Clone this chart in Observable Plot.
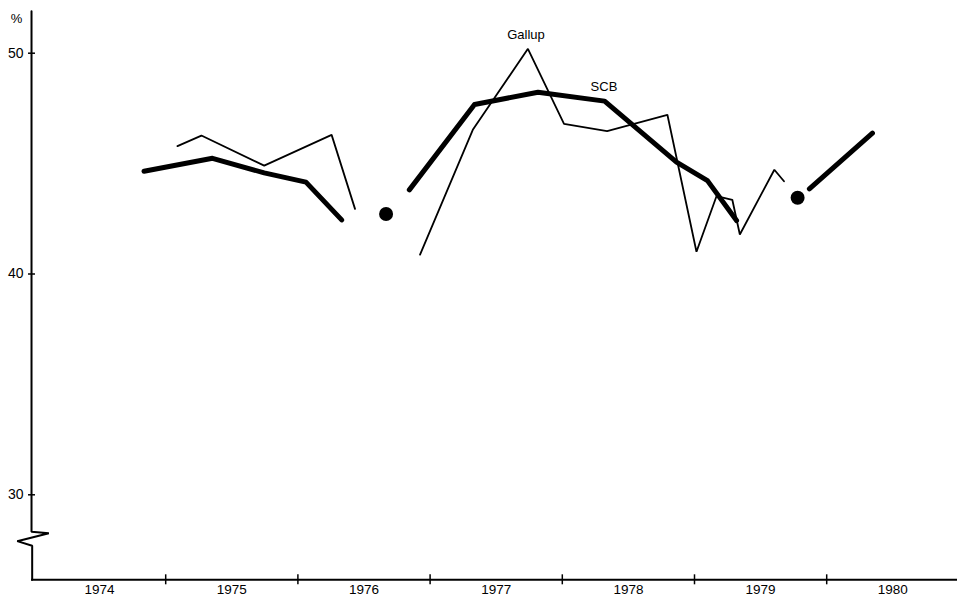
<!DOCTYPE html>
<html><head><meta charset="utf-8">
<script src="https://cdn.jsdelivr.net/npm/d3@7"></script>
<script src="https://cdn.jsdelivr.net/npm/@observablehq/plot@0.6"></script>
<style>body{margin:0;background:#fff} #chart svg{display:block}</style>
</head><body><div id="chart"></div>
<script>
// SCB series (thick line); null marks a break in the line
const scbYear = [1974.836, 1975.354, 1975.745, 1976.061, 1976.331, null, 1976.843, 1977.336, 1977.816, 1978.320, 1978.864, 1979.098, 1979.318, null, 1979.869, 1980.346];
const scbPct  = [44.65, 45.24, 44.58, 44.16, 42.45, null, 43.81, 47.68, 48.23, 47.83, 45.07, 44.23, 42.42, null, 43.86, 46.38];
// Gallup series (thin line)
const gallupYear = [1975.089, 1975.270, 1975.745, 1976.255, 1976.432, null, 1976.924, 1977.323, 1977.740, 1978.013, 1978.339, 1978.795, 1979.015, 1979.167, 1979.286, 1979.343, 1979.604, 1979.677];
const gallupPct  = [45.79, 46.27, 44.91, 46.30, 42.95, null, 40.88, 46.53, 50.20, 46.80, 46.47, 47.21, 41.01, 43.53, 43.36, 41.79, 44.72, 44.20];
// single SCB observations (dots)
const dotYear = [1976.667, 1979.780];
const dotPct  = [42.72, 43.45];
// series labels
const labelText = ["Gallup", "SCB"];
const labelYear = [1977.725, 1978.315];
const labelPct  = [50.64, 48.28];
// axes
const yearStart  = [1974, 1975, 1976, 1977, 1978, 1979, 1980];
const yearLabels = ["1974", "1975", "1976", "1977", "1978", "1979", "1980"];
const yearBounds = [1975, 1976, 1977, 1978, 1979, 1980];
const yTicks = [30, 40, 50];
const yFloor = 26.15, yTop = 51.9;
const axisYear = 1973.985;
// broken y-axis path (axis line with zigzag break)
const axisPathYear = [axisYear, axisYear, 1974.116, 1973.877, 1973.99, 1973.99];
const axisPathPct  = [yTop, 28.33, 28.26, 27.90, 27.69, yFloor];

const rows = (xs, ys) => xs.map((x, i) => ({x, y: ys[i]}));
const font = "'Liberation Sans', Arial, Helvetica, sans-serif";

const chart = Plot.plot({
  width: 957,
  height: 597,
  marginLeft: 31,
  marginRight: 0,
  marginTop: 11,
  marginBottom: 18,
  style: {fontFamily: font, background: "#fff", color: "#000"},
  x: {domain: [1974, 1981], range: [33, 958.4], axis: null},
  y: {domain: [30, 50], range: [494.3, 52.7], axis: null},
  marks: [
    // y axis with break
    Plot.line(rows(axisPathYear, axisPathPct), {x: "x", y: "y", stroke: "#000", strokeWidth: 2, strokeLinejoin: "miter"}),
    // x axis line
    Plot.ruleY([yFloor], {stroke: "#000", strokeWidth: 2}),
    // year boundary ticks
    Plot.ruleX(yearBounds, {x: d => d, y1: yFloor, y2: yFloor, insetTop: -5, insetBottom: -5, stroke: "#000", strokeWidth: 1.5}),
    // y ticks
    Plot.ruleY(yTicks, {y: d => d, x1: axisYear, x2: axisYear, insetLeft: -3, insetRight: -4, stroke: "#000", strokeWidth: 1.5}),
    Plot.text(yTicks, {x: axisYear, y: d => d, text: d => String(d), textAnchor: "end", dx: -8, fontSize: 14, fill: "#000"}),
    Plot.text(["%"], {frameAnchor: "top-left", text: d => d, dx: -15, dy: 2, lineAnchor: "top", textAnchor: "middle", fontSize: 13, fill: "#000"}),
    // year labels
    Plot.text(yearLabels, {x: (d, i) => yearStart[i] + 0.5, y: yFloor, text: d => d, lineAnchor: "middle", dy: 10, fontSize: 13.5, fill: "#000"}),
    // series
    Plot.line(rows(gallupYear, gallupPct), {x: "x", y: "y", stroke: "#000", strokeWidth: 1.8, strokeLinejoin: "miter"}),
    Plot.line(rows(scbYear, scbPct), {x: "x", y: "y", stroke: "#000", strokeWidth: 5, strokeLinejoin: "round", strokeLinecap: "round"}),
    Plot.dot(rows(dotYear, dotPct), {x: "x", y: "y", r: 7, fill: "#000", stroke: "none"}),
    // series labels
    Plot.text(labelText, {x: (d, i) => labelYear[i], y: (d, i) => labelPct[i], text: d => d, lineAnchor: "bottom", textAnchor: "middle", fontSize: 13, fill: "#000"})
  ]
});
document.getElementById("chart").appendChild(chart);
</script>
</body></html>
